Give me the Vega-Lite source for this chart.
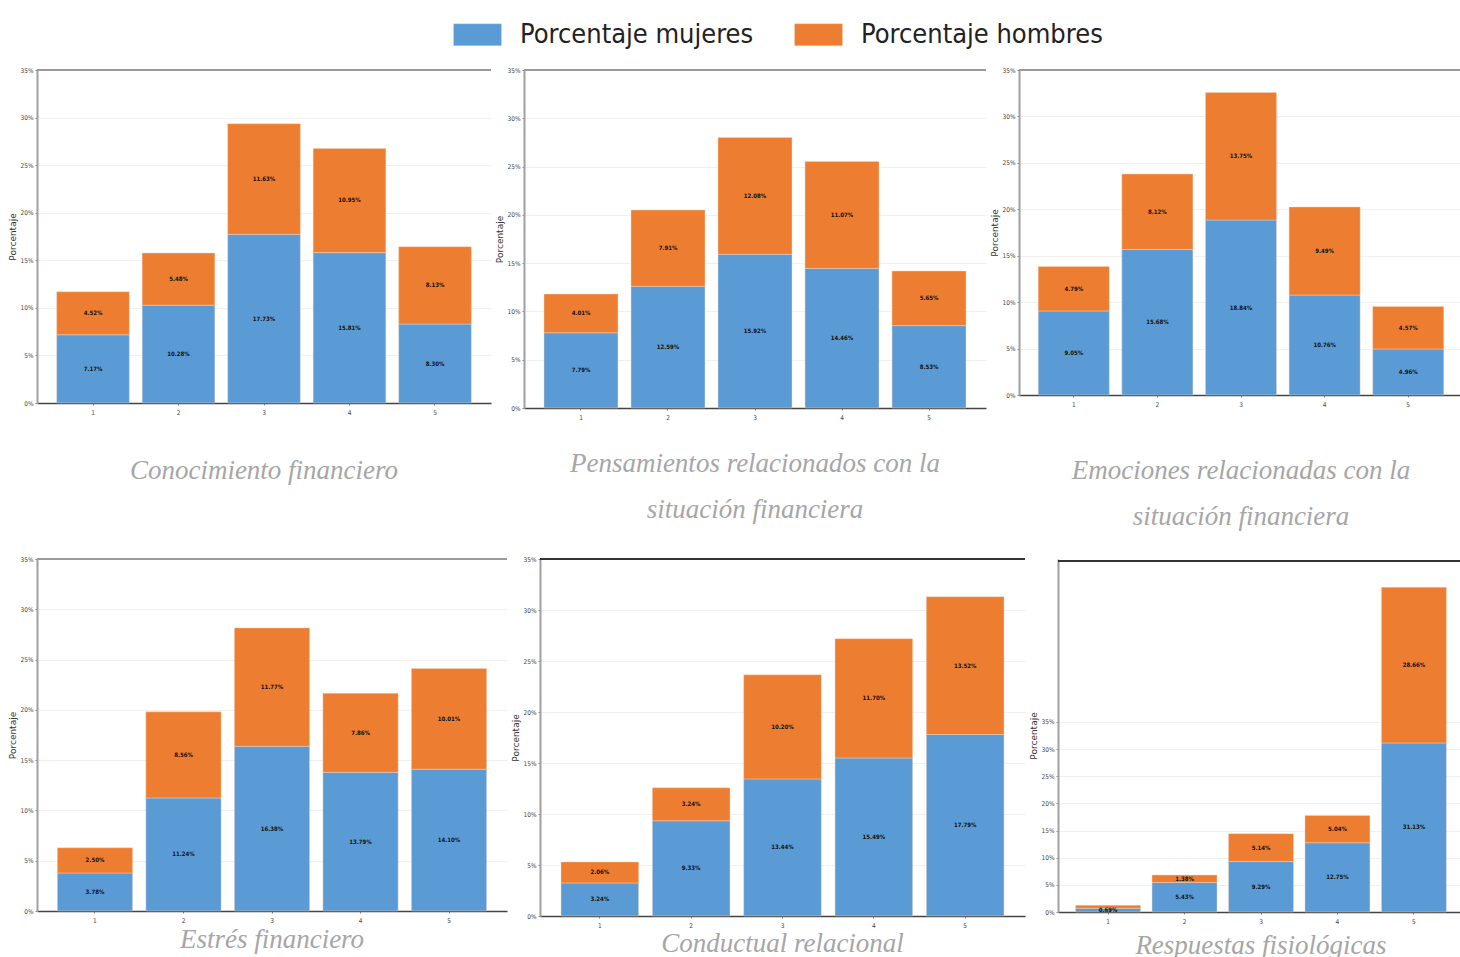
{
  "$schema": "https://vega.github.io/schema/vega-lite/v6.json",
  "padding": {"left": 8, "top": 10, "right": 0, "bottom": 0},
  "datasets": {
    "encuesta": [
      {"panel": 1, "nivel": "1", "genero": "Porcentaje mujeres", "valor": 7.17},
      {"panel": 1, "nivel": "2", "genero": "Porcentaje mujeres", "valor": 10.28},
      {"panel": 1, "nivel": "3", "genero": "Porcentaje mujeres", "valor": 17.73},
      {"panel": 1, "nivel": "4", "genero": "Porcentaje mujeres", "valor": 15.81},
      {"panel": 1, "nivel": "5", "genero": "Porcentaje mujeres", "valor": 8.30},
      {"panel": 1, "nivel": "1", "genero": "Porcentaje hombres", "valor": 4.52},
      {"panel": 1, "nivel": "2", "genero": "Porcentaje hombres", "valor": 5.48},
      {"panel": 1, "nivel": "3", "genero": "Porcentaje hombres", "valor": 11.63},
      {"panel": 1, "nivel": "4", "genero": "Porcentaje hombres", "valor": 10.95},
      {"panel": 1, "nivel": "5", "genero": "Porcentaje hombres", "valor": 8.13},
      {"panel": 2, "nivel": "1", "genero": "Porcentaje mujeres", "valor": 7.79},
      {"panel": 2, "nivel": "2", "genero": "Porcentaje mujeres", "valor": 12.59},
      {"panel": 2, "nivel": "3", "genero": "Porcentaje mujeres", "valor": 15.92},
      {"panel": 2, "nivel": "4", "genero": "Porcentaje mujeres", "valor": 14.46},
      {"panel": 2, "nivel": "5", "genero": "Porcentaje mujeres", "valor": 8.53},
      {"panel": 2, "nivel": "1", "genero": "Porcentaje hombres", "valor": 4.01},
      {"panel": 2, "nivel": "2", "genero": "Porcentaje hombres", "valor": 7.91},
      {"panel": 2, "nivel": "3", "genero": "Porcentaje hombres", "valor": 12.08},
      {"panel": 2, "nivel": "4", "genero": "Porcentaje hombres", "valor": 11.07},
      {"panel": 2, "nivel": "5", "genero": "Porcentaje hombres", "valor": 5.65},
      {"panel": 3, "nivel": "1", "genero": "Porcentaje mujeres", "valor": 9.05},
      {"panel": 3, "nivel": "2", "genero": "Porcentaje mujeres", "valor": 15.68},
      {"panel": 3, "nivel": "3", "genero": "Porcentaje mujeres", "valor": 18.84},
      {"panel": 3, "nivel": "4", "genero": "Porcentaje mujeres", "valor": 10.76},
      {"panel": 3, "nivel": "5", "genero": "Porcentaje mujeres", "valor": 4.96},
      {"panel": 3, "nivel": "1", "genero": "Porcentaje hombres", "valor": 4.79},
      {"panel": 3, "nivel": "2", "genero": "Porcentaje hombres", "valor": 8.12},
      {"panel": 3, "nivel": "3", "genero": "Porcentaje hombres", "valor": 13.75},
      {"panel": 3, "nivel": "4", "genero": "Porcentaje hombres", "valor": 9.49},
      {"panel": 3, "nivel": "5", "genero": "Porcentaje hombres", "valor": 4.57},
      {"panel": 4, "nivel": "1", "genero": "Porcentaje mujeres", "valor": 3.78},
      {"panel": 4, "nivel": "2", "genero": "Porcentaje mujeres", "valor": 11.24},
      {"panel": 4, "nivel": "3", "genero": "Porcentaje mujeres", "valor": 16.38},
      {"panel": 4, "nivel": "4", "genero": "Porcentaje mujeres", "valor": 13.79},
      {"panel": 4, "nivel": "5", "genero": "Porcentaje mujeres", "valor": 14.10},
      {"panel": 4, "nivel": "1", "genero": "Porcentaje hombres", "valor": 2.50},
      {"panel": 4, "nivel": "2", "genero": "Porcentaje hombres", "valor": 8.56},
      {"panel": 4, "nivel": "3", "genero": "Porcentaje hombres", "valor": 11.77},
      {"panel": 4, "nivel": "4", "genero": "Porcentaje hombres", "valor": 7.86},
      {"panel": 4, "nivel": "5", "genero": "Porcentaje hombres", "valor": 10.01},
      {"panel": 5, "nivel": "1", "genero": "Porcentaje mujeres", "valor": 3.24},
      {"panel": 5, "nivel": "2", "genero": "Porcentaje mujeres", "valor": 9.33},
      {"panel": 5, "nivel": "3", "genero": "Porcentaje mujeres", "valor": 13.44},
      {"panel": 5, "nivel": "4", "genero": "Porcentaje mujeres", "valor": 15.49},
      {"panel": 5, "nivel": "5", "genero": "Porcentaje mujeres", "valor": 17.79},
      {"panel": 5, "nivel": "1", "genero": "Porcentaje hombres", "valor": 2.06},
      {"panel": 5, "nivel": "2", "genero": "Porcentaje hombres", "valor": 3.24},
      {"panel": 5, "nivel": "3", "genero": "Porcentaje hombres", "valor": 10.20},
      {"panel": 5, "nivel": "4", "genero": "Porcentaje hombres", "valor": 11.70},
      {"panel": 5, "nivel": "5", "genero": "Porcentaje hombres", "valor": 13.52},
      {"panel": 6, "nivel": "1", "genero": "Porcentaje mujeres", "valor": 0.69},
      {"panel": 6, "nivel": "2", "genero": "Porcentaje mujeres", "valor": 5.43},
      {"panel": 6, "nivel": "3", "genero": "Porcentaje mujeres", "valor": 9.29},
      {"panel": 6, "nivel": "4", "genero": "Porcentaje mujeres", "valor": 12.75},
      {"panel": 6, "nivel": "5", "genero": "Porcentaje mujeres", "valor": 31.13},
      {"panel": 6, "nivel": "1", "genero": "Porcentaje hombres", "valor": 0.55},
      {"panel": 6, "nivel": "2", "genero": "Porcentaje hombres", "valor": 1.38},
      {"panel": 6, "nivel": "3", "genero": "Porcentaje hombres", "valor": 5.14},
      {"panel": 6, "nivel": "4", "genero": "Porcentaje hombres", "valor": 5.04},
      {"panel": 6, "nivel": "5", "genero": "Porcentaje hombres", "valor": 28.66}
    ]
  },
  "vconcat": [
    {
      "hconcat": [
        {
          "width": 454, "height": 333,
          "data": {"name": "encuesta"},
          "transform": [{"filter": "datum.panel == 1"}],
          "title": {"text": "Conocimiento financiero", "orient": "bottom", "offset": 42},
          "layer": [
            {"mark": "bar", "encoding": {
              "x": {"field": "nivel", "type": "nominal"},
              "y": {"field": "valor", "type": "quantitative", "scale": {"domain": [0, 35]}, "axis": {"title": "Porcentaje", "values": [0, 5, 10, 15, 20, 25, 30, 35]}},
              "color": {"field": "genero", "type": "nominal", "scale": {"domain": ["Porcentaje mujeres", "Porcentaje hombres"]}},
              "order": {"field": "genero", "sort": "descending"}}},
            {"transform": [
                {"stack": "valor", "groupby": ["nivel"], "sort": [{"field": "genero", "order": "descending"}], "as": ["v0", "v1"]},
                {"calculate": "(datum.v0 + datum.v1) / 2", "as": "medio"},
                {"calculate": "format(datum.valor, '.2f') + '%'", "as": "etiqueta"},
                {"filter": "datum.valor >= 0.6"}],
             "mark": {"type": "text"},
             "encoding": {
              "x": {"field": "nivel", "type": "nominal"},
              "y": {"field": "medio", "type": "quantitative"},
              "text": {"field": "etiqueta"}}},
            {"mark": {"type": "rule", "color": "#9a9a9a", "strokeWidth": 1.5}, "encoding": {"y": {"datum": 35}}}
          ]
        },
        {
          "width": 462, "height": 338,
          "data": {"name": "encuesta"},
          "transform": [{"filter": "datum.panel == 2"}],
          "title": {"text": ["Pensamientos relacionados con la", "situación financiera"], "orient": "bottom", "offset": 30},
          "layer": [
            {"mark": "bar", "encoding": {
              "x": {"field": "nivel", "type": "nominal"},
              "y": {"field": "valor", "type": "quantitative", "scale": {"domain": [0, 35]}, "axis": {"title": "Porcentaje", "values": [0, 5, 10, 15, 20, 25, 30, 35]}},
              "color": {"field": "genero", "type": "nominal", "scale": {"domain": ["Porcentaje mujeres", "Porcentaje hombres"]}},
              "order": {"field": "genero", "sort": "descending"}}},
            {"transform": [
                {"stack": "valor", "groupby": ["nivel"], "sort": [{"field": "genero", "order": "descending"}], "as": ["v0", "v1"]},
                {"calculate": "(datum.v0 + datum.v1) / 2", "as": "medio"},
                {"calculate": "format(datum.valor, '.2f') + '%'", "as": "etiqueta"},
                {"filter": "datum.valor >= 0.6"}],
             "mark": {"type": "text"},
             "encoding": {
              "x": {"field": "nivel", "type": "nominal"},
              "y": {"field": "medio", "type": "quantitative"},
              "text": {"field": "etiqueta"}}},
            {"mark": {"type": "rule", "color": "#9a9a9a", "strokeWidth": 1.5}, "encoding": {"y": {"datum": 35}}}
          ]
        },
        {
          "width": 444, "height": 325,
          "data": {"name": "encuesta"},
          "transform": [{"filter": "datum.panel == 3"}],
          "title": {"text": ["Emociones relacionadas con la", "situación financiera"], "orient": "bottom", "offset": 50},
          "layer": [
            {"mark": "bar", "encoding": {
              "x": {"field": "nivel", "type": "nominal"},
              "y": {"field": "valor", "type": "quantitative", "scale": {"domain": [0, 35]}, "axis": {"title": "Porcentaje", "values": [0, 5, 10, 15, 20, 25, 30, 35]}},
              "color": {"field": "genero", "type": "nominal", "scale": {"domain": ["Porcentaje mujeres", "Porcentaje hombres"]}},
              "order": {"field": "genero", "sort": "descending"}}},
            {"transform": [
                {"stack": "valor", "groupby": ["nivel"], "sort": [{"field": "genero", "order": "descending"}], "as": ["v0", "v1"]},
                {"calculate": "(datum.v0 + datum.v1) / 2", "as": "medio"},
                {"calculate": "format(datum.valor, '.2f') + '%'", "as": "etiqueta"},
                {"filter": "datum.valor >= 0.6"}],
             "mark": {"type": "text"},
             "encoding": {
              "x": {"field": "nivel", "type": "nominal"},
              "y": {"field": "medio", "type": "quantitative"},
              "text": {"field": "etiqueta"}}},
            {"mark": {"type": "rule", "color": "#9a9a9a", "strokeWidth": 1.5}, "encoding": {"y": {"datum": 35}}}
          ]
        }
      ],
      "spacing": 3
    },
    {
      "hconcat": [
        {
          "width": 470, "height": 352,
          "data": {"name": "encuesta"},
          "transform": [{"filter": "datum.panel == 4"}],
          "title": {"text": "Estrés financiero", "orient": "bottom", "offset": 3},
          "layer": [
            {"mark": "bar", "encoding": {
              "x": {"field": "nivel", "type": "nominal"},
              "y": {"field": "valor", "type": "quantitative", "scale": {"domain": [0, 35]}, "axis": {"title": "Porcentaje", "values": [0, 5, 10, 15, 20, 25, 30, 35]}},
              "color": {"field": "genero", "type": "nominal", "scale": {"domain": ["Porcentaje mujeres", "Porcentaje hombres"]}},
              "order": {"field": "genero", "sort": "descending"}}},
            {"transform": [
                {"stack": "valor", "groupby": ["nivel"], "sort": [{"field": "genero", "order": "descending"}], "as": ["v0", "v1"]},
                {"calculate": "(datum.v0 + datum.v1) / 2", "as": "medio"},
                {"calculate": "format(datum.valor, '.2f') + '%'", "as": "etiqueta"},
                {"filter": "datum.valor >= 0.6"}],
             "mark": {"type": "text"},
             "encoding": {
              "x": {"field": "nivel", "type": "nominal"},
              "y": {"field": "medio", "type": "quantitative"},
              "text": {"field": "etiqueta"}}},
            {"mark": {"type": "rule", "color": "#9a9a9a", "strokeWidth": 1.5}, "encoding": {"y": {"datum": 35}}}
          ]
        },
        {
          "width": 485, "height": 357,
          "data": {"name": "encuesta"},
          "transform": [{"filter": "datum.panel == 5"}],
          "title": {"text": "Conductual relacional", "orient": "bottom", "offset": 2},
          "layer": [
            {"mark": "bar", "encoding": {
              "x": {"field": "nivel", "type": "nominal"},
              "y": {"field": "valor", "type": "quantitative", "scale": {"domain": [0, 35]}, "axis": {"title": "Porcentaje", "values": [0, 5, 10, 15, 20, 25, 30, 35]}},
              "color": {"field": "genero", "type": "nominal", "scale": {"domain": ["Porcentaje mujeres", "Porcentaje hombres"]}},
              "order": {"field": "genero", "sort": "descending"}}},
            {"transform": [
                {"stack": "valor", "groupby": ["nivel"], "sort": [{"field": "genero", "order": "descending"}], "as": ["v0", "v1"]},
                {"calculate": "(datum.v0 + datum.v1) / 2", "as": "medio"},
                {"calculate": "format(datum.valor, '.2f') + '%'", "as": "etiqueta"},
                {"filter": "datum.valor >= 0.6"}],
             "mark": {"type": "text"},
             "encoding": {
              "x": {"field": "nivel", "type": "nominal"},
              "y": {"field": "medio", "type": "quantitative"},
              "text": {"field": "etiqueta"}}},
            {"mark": {"type": "rule", "color": "#333333", "strokeWidth": 1.5}, "encoding": {"y": {"datum": 35}}}
          ]
        },
        {
          "width": 406, "height": 353,
          "data": {"name": "encuesta"},
          "transform": [{"filter": "datum.panel == 6"}],
          "title": {"text": "Respuestas fisiológicas", "orient": "bottom", "offset": 8},
          "layer": [
            {"mark": "bar", "encoding": {
              "x": {"field": "nivel", "type": "nominal"},
              "y": {"field": "valor", "type": "quantitative", "scale": {"domain": [0, 64.7]}, "axis": {"title": "Porcentaje", "values": [0, 5, 10, 15, 20, 25, 30, 35]}},
              "color": {"field": "genero", "type": "nominal", "scale": {"domain": ["Porcentaje mujeres", "Porcentaje hombres"]}},
              "order": {"field": "genero", "sort": "descending"}}},
            {"transform": [
                {"stack": "valor", "groupby": ["nivel"], "sort": [{"field": "genero", "order": "descending"}], "as": ["v0", "v1"]},
                {"calculate": "(datum.v0 + datum.v1) / 2", "as": "medio"},
                {"calculate": "format(datum.valor, '.2f') + '%'", "as": "etiqueta"},
                {"filter": "datum.valor >= 0.6"}],
             "mark": {"type": "text"},
             "encoding": {
              "x": {"field": "nivel", "type": "nominal"},
              "y": {"field": "medio", "type": "quantitative"},
              "text": {"field": "etiqueta"}}},
            {"mark": {"type": "rule", "color": "#333333", "strokeWidth": 1.5}, "encoding": {"y": {"datum": 64.7}}}
          ]
        }
      ],
      "spacing": 3
    }
  ],
  "spacing": 26,
  "config": {
    "view": {"stroke": null},
    "scale": {"bandPaddingInner": 0.15, "bandPaddingOuter": 0.23},
    "range": {"category": ["#5b9bd5", "#ed7d31"]},
    "bar": {"stroke": "#f6d9c4", "strokeWidth": 0.6, "strokeOpacity": 0.7},
    "text": {"font": "DejaVu Sans Condensed", "fontSize": 6, "fontWeight": "bold", "color": "#111111"},
    "title": {"font": "Liberation Serif", "fontStyle": "italic", "fontWeight": "normal", "fontSize": 27, "color": "#a6a6a6", "lineHeight": 46},
    "axis": {"labelFont": "DejaVu Sans Condensed", "labelFontSize": 6.5, "labelColor": "#444444", "tickColor": "#888888", "tickSize": 2, "labelPadding": 2, "titleFont": "DejaVu Sans", "titleFontSize": 9, "titleFontWeight": "normal", "titleColor": "#333333", "titlePadding": 3},
    "axisX": {"title": null, "labelAngle": 0, "domainColor": "#444444", "domainWidth": 1.5, "grid": false, "labelPadding": 4},
    "axisY": {"domainColor": "#a0a0a0", "domainWidth": 2, "gridColor": "#f0f0f0", "labelExpr": "datum.value + '%'"},
    "legend": {"title": null, "orient": "none", "legendX": 416, "legendY": -60, "direction": "horizontal", "symbolType": "M-1,-0.46H1V0.46H-1Z", "symbolSize": 2304, "symbolStrokeWidth": 0, "symbolOpacity": 1, "labelFont": "DejaVu Sans Condensed", "labelFontSize": 27, "labelColor": "#222222", "labelOffset": 18, "columnPadding": 39, "labelLimit": 400}
  }
}
